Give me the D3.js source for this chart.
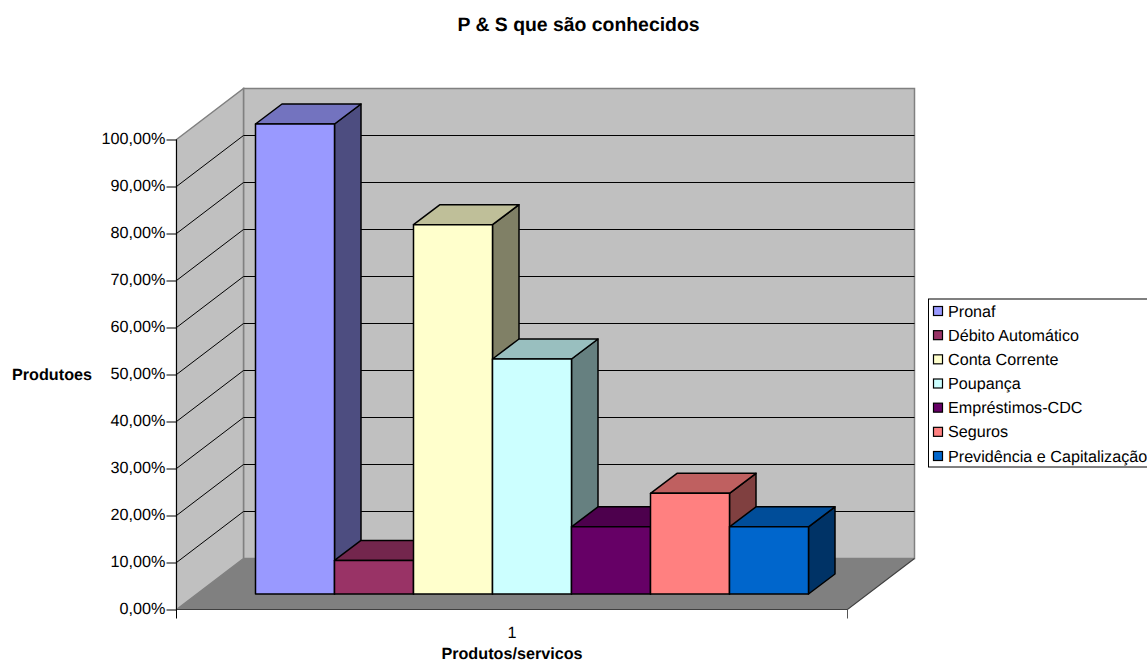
<!DOCTYPE html>
<html>
<head>
<meta charset="utf-8">
<script src="https://cdn.jsdelivr.net/npm/d3@7"></script>
<style>
html,body{margin:0;padding:0;background:#fff;overflow:hidden}
svg{display:block}
text{font-family:"Liberation Sans",Arial,sans-serif;fill:#000;text-rendering:geometricPrecision}
</style>
</head>
<body>
<svg id="chart" width="1147" height="662"></svg>
<script>
const categories = ["Pronaf","Débito Automático","Conta Corrente","Poupança","Empréstimos-CDC","Seguros","Previdência e Capitalização"];
const values = [1.0,0.0714,0.7857,0.5,0.1429,0.2143,0.1429];
const colors = ["#9999ff","#993366","#ffffcc","#ccffff","#660066","#ff8080","#0066cc"];
const tickValues = [0,0.1,0.2,0.3,0.4,0.5,0.6,0.7,0.8,0.9,1.0];
const titleText = "P & S que são conhecidos";
const yTitle = "Produtoes";
const xTitle = "Produtos/servicos";
const groupLabels = ["1"];

const svg = d3.select("#chart");
const y = d3.scaleLinear().domain([0,1]).range([609.5,139.5]);
const xGroup = d3.scaleBand().domain(groupLabels).range([176.5,847.5]);
const xBar = d3.scaleBand().domain(categories).range([255.5,808.5]);

// oblique projection of the 3D box: depth runs up and to the right
const wallDx = 67, wallDy = -51;
const barDx = 26.5, barDy = -20;
const barLift = -15.5;
const [x0,x1] = xGroup.range();
const y0 = y(0), yTop = y(1);
const poly = pts => pts.map(p=>p.join(",")).join(" ");

const walls = svg.append("g");
// back wall, side wall, floor
walls.append("polygon")
  .attr("points",poly([[x0+wallDx,yTop+wallDy],[x1+wallDx,yTop+wallDy],[x1+wallDx,y0+wallDy],[x0+wallDx,y0+wallDy]]))
  .attr("fill","#c0c0c0").attr("stroke","#808080").attr("stroke-width",1.5);
walls.append("polygon")
  .attr("points",poly([[x0,yTop],[x0+wallDx,yTop+wallDy],[x0+wallDx,y0+wallDy],[x0,y0]]))
  .attr("fill","#c0c0c0").attr("stroke","#808080").attr("stroke-width",1.5);
walls.append("polygon")
  .attr("points",poly([[x0,y0],[x1,y0],[x1+wallDx,y0+wallDy],[x0+wallDx,y0+wallDy]]))
  .attr("fill","#808080");

// gridlines folded across the side and back walls
svg.append("g").selectAll("path").data(tickValues.filter(t=>t>0 && t<1)).join("path")
  .attr("fill","none").attr("stroke","#000").attr("stroke-width",1)
  .attr("d",t=>`M${x0},${y(t)}L${x0+wallDx},${y(t)+wallDy}L${x1+wallDx},${y(t)+wallDy}`);

// floor front edge and right edge
svg.append("path").attr("fill","none").attr("stroke","#404040").attr("stroke-width",1.2)
  .attr("d",`M${x0},${y0}L${x1},${y0}L${x1+wallDx},${y0+wallDy}`);

// axes
const yAxis = d3.axisLeft(y).tickValues(tickValues).tickSize(10).tickPadding(1)
  .tickFormat(d=>d3.format(".2f")(d*100).replace(".",",")+"%");
const gy = svg.append("g").attr("transform",`translate(${x0},0)`).call(yAxis);
gy.attr("font-family",null);
gy.select(".domain").attr("stroke","#000").attr("d",`M0,${yTop}V${y0+9}`);
gy.selectAll("line").attr("x2",-10);
gy.selectAll("text").attr("font-size",16.2).attr("font-family",null).attr("dy","0.26em");

svg.append("g").selectAll("line").data([x1]).join("line")
  .attr("x1",d=>d).attr("x2",d=>d).attr("y1",y0).attr("y2",y0+9)
  .attr("stroke","#555").attr("stroke-width",1);

// bars, drawn left to right in series order
const shade = (c,k)=>{const r=d3.rgb(c);return d3.rgb(r.r*k,r.g*k,r.b*k).formatHex();};
const bars = svg.append("g").attr("stroke","#000").attr("stroke-width",1.5).attr("stroke-linejoin","round");
categories.forEach((name,i)=>{
  const l = xBar(name), r = l+xBar.bandwidth();
  const top = y(values[i])+barLift, base = y0+barLift;
  const g = bars.append("g");
  g.append("polygon").attr("fill",shade(colors[i],0.5))
    .attr("points",poly([[r,top],[r+barDx,top+barDy],[r+barDx,base+barDy],[r,base]]));
  g.append("polygon").attr("fill",shade(colors[i],0.75))
    .attr("points",poly([[l,top],[l+barDx,top+barDy],[r+barDx,top+barDy],[r,top]]));
  g.append("rect").attr("x",l).attr("y",top).attr("width",r-l).attr("height",base-top)
    .attr("fill",colors[i]);
});

// titles
const xMid = xGroup(groupLabels[0])+xGroup.bandwidth()/2;
svg.append("text").attr("x",578.5).attr("y",30.5).attr("text-anchor","middle")
  .attr("font-size",19.4).attr("font-weight","bold").text(titleText);
svg.append("text").attr("x",12).attr("y",379.5).attr("font-size",16.2).attr("font-weight","bold").text(yTitle);
svg.append("text").attr("x",xMid).attr("y",637.5).attr("text-anchor","middle")
  .attr("font-size",16.2).text(groupLabels[0]);
svg.append("text").attr("x",xMid).attr("y",658.5).attr("text-anchor","middle")
  .attr("font-size",16.2).attr("font-weight","bold").text(xTitle);

// legend
const legendY = d3.scalePoint().domain(categories).range([311,456]);
const legend = svg.append("g");
legend.append("rect").attr("x",928.5).attr("y",299).attr("width",240).attr("height",168)
  .attr("fill","#fff").attr("stroke","#000").attr("stroke-width",1);
const rows = legend.selectAll("g").data(categories).join("g")
  .attr("transform",d=>`translate(0,${legendY(d)})`);
rows.append("rect").attr("x",933.5).attr("y",-4.5).attr("width",9).attr("height",9)
  .attr("fill",(d,i)=>colors[i]).attr("stroke","#000").attr("stroke-width",1.2);
rows.append("text").attr("x",948).attr("y",5.6).attr("font-size",16.15).text(d=>d);
</script>
</body>
</html>
